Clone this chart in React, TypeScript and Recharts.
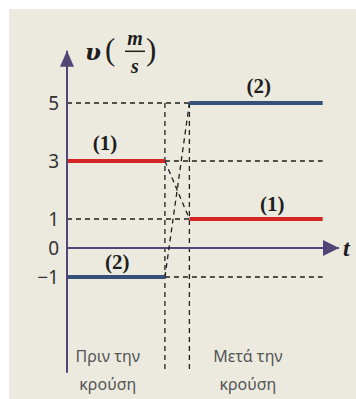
import { LineChart, Line, XAxis, YAxis, ReferenceLine, ReferenceDot } from 'recharts';

// ── Données ────────────────────────────────────────────────

const bodies = ['(1)', '(2)'];
const vBefore = [3, -1]; // m/s avant la collision
const vAfter = [1, 5]; // m/s après la collision
const tPhases = [0, 3.6, 4.5, 9.4]; // début, début du choc, fin du choc, fin
const yTicks = [-1, 0, 1, 3, 5];
const phaseLabels = [
  ['Πριν την', 'κρούση'],
  ['Μετά την', 'κρούση'],
];
const vAxisLabel = { name: 'υ', num: 'm', den: 's' };
const tAxisLabel = 't';

// ── Mise en page ───────────────────────────────────────────

const W = 347;
const H = 390;
const T_MAX = 10;
const V_MIN = -4.3;
const V_MAX = 6.8;
const GUIDE_BOTTOM = -4.25;

const AXIS = '#514675';
const INK = '#1e1e1e';
const COLORS = ['#d42424', '#34507a'];
const DASH = '5 4';

// positions des étiquettes (1)/(2) : [avant, après]
const labelTBefore = [1.4, 1.85];
const labelTAfter = [7.55, 7.05];
const phaseLabelT = [1.5, 6.65];
const phaseLabelV = -3.93;

const [t0, tc1, tc2, tEnd] = tPhases;

const before = vBefore.map((v) => [
  { t: t0, v },
  { t: tc1, v },
]);
const after = vAfter.map((v) => [
  { t: tc2, v },
  { t: tEnd, v },
]);
const transition = vBefore.map((v, i) => [
  { t: tc1, v },
  { t: tc2, v: vAfter[i] },
]);

const fmtTick = (v: number) => (v < 0 ? `\u2212${Math.abs(v)}` : String(v));

function center(props: any) {
  const vb = props.viewBox ?? {};
  return { x: (vb.x ?? 0) + (vb.width ?? 0) / 2, y: (vb.y ?? 0) + (vb.height ?? 0) / 2 };
}

const serif = '"Liberation Serif", "DejaVu Serif", serif';

function VLabel(props: any) {
  const { x, y } = center(props);
  return (
    <g fill={INK}>
      <text x={x + 18} y={y + 9} fontFamily='"DejaVu Serif", serif' fontWeight="bold" fontStyle="italic" fontSize={23}>
        {vAxisLabel.name}
      </text>
      <text x={x + 38} y={y + 9} fontFamily={serif} fontSize={31}>
        (
      </text>
      <text x={x + 68} y={y - 6} textAnchor="middle" fontFamily={serif} fontWeight="bold" fontStyle="italic" fontSize={20}>
        {vAxisLabel.num}
      </text>
      <line x1={x + 58} x2={x + 78} y1={y + 0.5} y2={y + 0.5} stroke={INK} strokeWidth={1.5} />
      <text x={x + 68} y={y + 22} textAnchor="middle" fontFamily={serif} fontWeight="bold" fontStyle="italic" fontSize={20}>
        {vAxisLabel.den}
      </text>
      <text x={x + 79} y={y + 9} fontFamily={serif} fontSize={31}>
        )
      </text>
    </g>
  );
}

function TLabel(props: any) {
  const { x, y } = center(props);
  return (
    <text x={x + 4} y={y + 8} fill={INK} fontFamily={serif} fontWeight="bold" fontStyle="italic" fontSize={24}>
      {tAxisLabel}
    </text>
  );
}

const bodyLabel = (text: string, dy: number) => (props: any) => {
  const { x, y } = center(props);
  return (
    <text x={x} y={y - dy} textAnchor="middle" fill={INK} fontFamily={serif} fontWeight="bold" fontSize={21}>
      {text}
    </text>
  );
};

const phaseLabel = (lines: string[]) => (props: any) => {
  const { x, y } = center(props);
  return (
    <text x={x} y={y} textAnchor="middle" fill="#555" fontFamily='"Noto Sans", sans-serif' fontSize={16}>
      {lines.map((l, i) => (
        <tspan key={i} x={x} dy={i === 0 ? 0 : 28}>
          {l}
        </tspan>
      ))}
    </text>
  );
};

const upArrow = (p: any) => (
  <polygon points={`${p.cx},${p.cy} ${p.cx - 7},${p.cy + 16} ${p.cx + 7},${p.cy + 16}`} fill={AXIS} />
);
const rightArrow = (p: any) => (
  <polygon points={`${p.cx},${p.cy} ${p.cx - 16},${p.cy - 8} ${p.cx - 16},${p.cy + 8}`} fill={AXIS} />
);

// ── Composant ──────────────────────────────────────────────

export default function App() {
  return (
    <div style={{ position: 'absolute', left: 9, top: 9, width: W, height: H, background: '#eceadf' }}>
      <LineChart width={W} height={H} margin={{ top: 41.8, right: 17, bottom: 26.3, left: 0 }}>
        <XAxis type="number" dataKey="t" domain={[0, T_MAX]} hide allowDataOverflow />
        <YAxis
          type="number"
          dataKey="v"
          domain={[V_MIN, V_MAX]}
          ticks={yTicks}
          tickFormatter={fmtTick}
          width={58}
          allowDataOverflow
          interval={0}
          tickLine={false}
          axisLine={{ stroke: AXIS, strokeWidth: 2 }}
          tick={{ fill: '#333', fontSize: 19, fontFamily: '"Noto Sans", sans-serif' }}
        />

        {/* repères pointillés */}
        {vAfter.map((v) => (
          <ReferenceLine key={`a${v}`} segment={[{ x: t0, y: v }, { x: tc2, y: v }]} stroke={INK} strokeDasharray={DASH} strokeWidth={1.3} />
        ))}
        {vBefore.map((v) => (
          <ReferenceLine key={`b${v}`} segment={[{ x: tc1, y: v }, { x: tEnd, y: v }]} stroke={INK} strokeDasharray={DASH} strokeWidth={1.3} />
        ))}
        {[tc1, tc2].map((t) => (
          <ReferenceLine
            key={`t${t}`}
            segment={[{ x: t, y: Math.max(...vAfter) }, { x: t, y: GUIDE_BOTTOM }]}
            stroke={INK}
            strokeDasharray={DASH}
            strokeWidth={1.3}
          />
        ))}

        {/* axe du temps */}
        <ReferenceLine segment={[{ x: 0, y: 0 }, { x: T_MAX, y: 0 }]} stroke={AXIS} strokeWidth={1.8} />

        {transition.map((d, i) => (
          <Line
            key={`tr${i}`}
            data={d}
            dataKey="v"
            stroke={INK}
            strokeWidth={1.3}
            strokeDasharray={DASH}
            dot={false}
            activeDot={false}
            isAnimationActive={false}
          />
        ))}
        {before.map((d, i) => (
          <Line key={`bf${i}`} data={d} dataKey="v" stroke={COLORS[i]} strokeWidth={4} dot={false} activeDot={false} isAnimationActive={false} />
        ))}
        {after.map((d, i) => (
          <Line key={`af${i}`} data={d} dataKey="v" stroke={COLORS[i]} strokeWidth={4} dot={false} activeDot={false} isAnimationActive={false} />
        ))}

        {bodies.map((b, i) => (
          <ReferenceDot key={`lb${i}`} x={labelTBefore[i]} y={vBefore[i]} r={0} fill="none" stroke="none" label={bodyLabel(b, i === 0 ? 11 : 8)} />
        ))}
        {bodies.map((b, i) => (
          <ReferenceDot key={`la${i}`} x={labelTAfter[i]} y={vAfter[i]} r={0} fill="none" stroke="none" label={bodyLabel(b, i === 0 ? 8 : 10)} />
        ))}
        {phaseLabels.map((lines, i) => (
          <ReferenceDot key={`ph${i}`} x={phaseLabelT[i]} y={phaseLabelV} r={0} fill="none" stroke="none" label={phaseLabel(lines)} />
        ))}

        <ReferenceDot x={0} y={V_MAX} r={0} shape={upArrow} label={VLabel} />
        <ReferenceDot x={T_MAX} y={0} r={0} shape={rightArrow} label={TLabel} />
      </LineChart>
    </div>
  );
}
